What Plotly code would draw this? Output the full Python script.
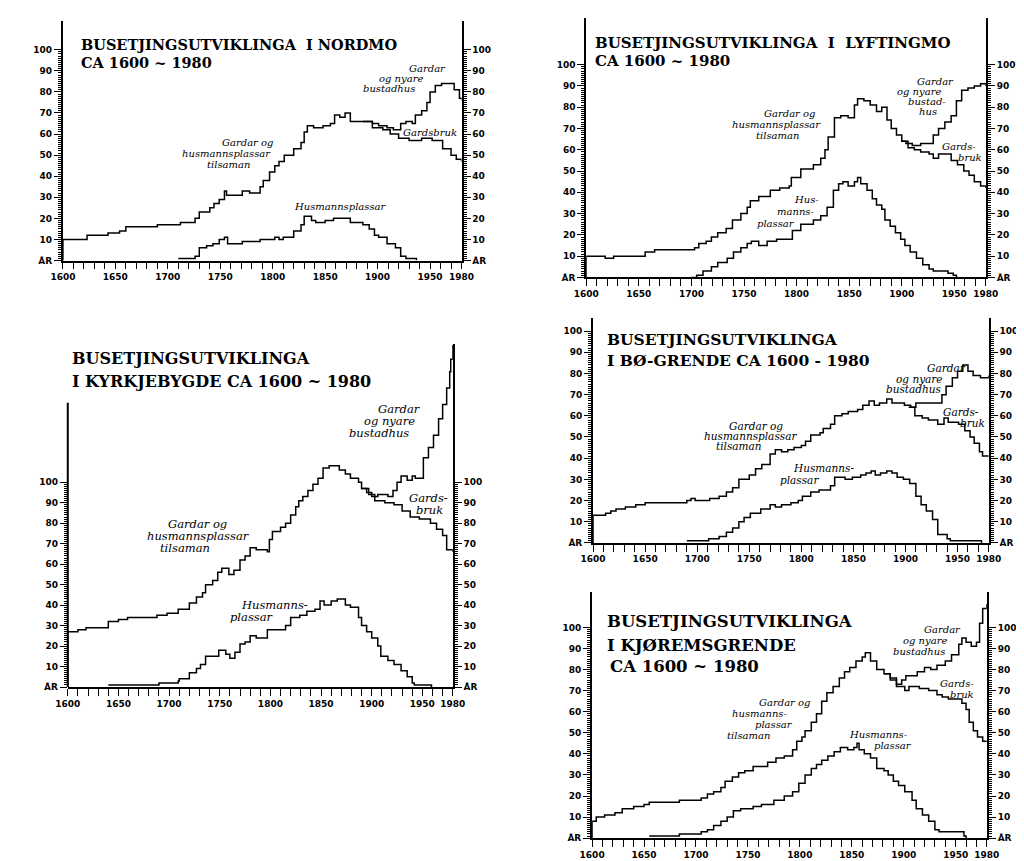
import plotly.graph_objects as go

W, H = 1024, 861

# ---------------- DATA (year of change, value from that year) ----------------
# Nordmo
nordmo_total_yr = [1600,1600,1623,1643,1654,1660,1690,1712,1726,1730,1740,1744,1749,1754,1756,1771,1778,1788,1791,1797,1802,1806,1811,1820,1827,1830,1833,1839,1848,1855,1859,1864,1869,1874,1886,1895,1901,1909,1915,1922,1927,1933,1936,1942,1947,1950,1955,1961,1967,1973,1978,1980]
nordmo_total    = [0,10,12,13,14,16,17,18,20,23,25,27,29,33,31,33,32,35,38,42,45,47,50,53,56,61,64,63,64,65,69,68,70,66,66,65,64,63,62,65,66,65,69,71,75,80,83,84,84,81,77,76]
nordmo_gard_yr  = [1886,1895,1905,1912,1920,1930,1942,1952,1962,1970,1975,1980]
nordmo_gard     = [66,63,62,60,58,57,58,57,53,50,48,47]
nordmo_hus_yr   = [1710,1726,1730,1737,1743,1749,1754,1757,1771,1788,1802,1806,1810,1820,1827,1830,1837,1841,1850,1858,1870,1874,1886,1892,1897,1901,1909,1917,1922,1927,1937]
nordmo_hus      = [1,2,6,7,8,10,11,8,9,10,11,10,11,14,17,21,19,18,19,20,20,18,17,15,12,11,8,6,2,1,0]

# Lyftingmo
lyft_total_yr = [1600,1600,1618,1626,1656,1665,1703,1707,1714,1719,1725,1733,1739,1747,1753,1756,1764,1775,1784,1793,1795,1804,1816,1823,1827,1830,1836,1842,1849,1855,1858,1864,1870,1876,1881,1886,1890,1895,1900,1904,1910,1918,1926,1930,1935,1941,1947,1952,1957,1963,1969,1975,1980]
lyft_total    = [0,10,9,10,12,13,14,16,17,19,21,23,27,30,33,36,38,41,42,43,47,51,53,56,60,66,75,76,75,81,84,83,81,78,80,74,70,67,64,63,62,63,63,67,70,73,76,83,88,89,90,91,90]
lyft_gard_yr  = [1900,1906,1912,1918,1926,1930,1935,1941,1947,1953,1959,1964,1969,1975,1980]
lyft_gard     = [64,61,60,59,58,56,58,58,55,53,50,48,45,43,42]
lyft_hus_yr   = [1700,1705,1711,1719,1725,1734,1740,1747,1753,1757,1764,1772,1781,1793,1796,1804,1816,1823,1829,1835,1840,1844,1849,1855,1858,1861,1867,1872,1876,1881,1884,1889,1894,1899,1903,1908,1914,1920,1926,1930,1944,1949,1952]
lyft_hus      = [0,1,3,5,7,9,12,14,16,17,15,17,18,18,22,25,27,29,33,41,44,45,43,45,47,44,41,37,34,32,27,24,21,18,15,12,9,6,4,3,2,1,0]

# Kyrkjebygde
kyrk_total_yr = [1600,1600,1610,1618,1640,1650,1659,1688,1698,1709,1720,1727,1733,1736,1743,1748,1752,1759,1764,1770,1775,1780,1786,1797,1799,1802,1810,1815,1820,1825,1828,1832,1837,1842,1847,1852,1858,1868,1874,1879,1887,1890,1895,1900,1906,1916,1921,1925,1929,1935,1940,1943,1951,1956,1961,1966,1970,1974,1977,1978,1980]
kyrk_total    = [0,27,28,29,32,33,34,35,36,38,41,44,46,50,52,56,58,55,57,62,64,68,67,66,72,76,78,80,84,88,91,93,96,99,102,107,108,106,104,102,100,97,95,93,94,93,96,100,103,101,103,102,112,117,123,131,138,146,154,160,167]
kyrk_gard_yr  = [1890,1897,1903,1913,1922,1930,1938,1947,1958,1964,1970,1974,1980]
kyrk_gard     = [97,94,91,90,89,86,83,82,80,77,74,67,66]
kyrk_hus_yr   = [1640,1688,1690,1709,1710,1720,1727,1731,1736,1743,1749,1756,1760,1765,1770,1775,1780,1786,1797,1808,1815,1820,1829,1836,1844,1849,1853,1860,1866,1874,1879,1887,1890,1895,1900,1906,1909,1916,1922,1929,1935,1940,1942,1959]
kyrk_hus      = [1,1,2,3,4,7,9,11,15,15,18,16,14,17,21,22,25,24,28,28,30,34,35,37,38,42,40,42,43,40,39,34,30,27,24,20,15,13,11,8,5,2,1,0]

# Bø-grende
bo_total_yr = [1600,1600,1612,1617,1622,1631,1641,1650,1690,1694,1698,1712,1721,1728,1734,1740,1750,1756,1762,1770,1775,1781,1787,1793,1800,1804,1809,1818,1821,1828,1832,1839,1845,1854,1859,1865,1870,1875,1882,1887,1893,1899,1905,1910,1930,1935,1939,1945,1950,1955,1960,1965,1972,1980]
bo_total    = [0,13,14,15,16,17,18,19,20,21,20,21,22,24,26,30,32,35,37,42,44,43,44,45,46,48,51,52,54,56,60,61,62,63,65,67,65,66,68,66,66,65,64,66,66,70,74,78,81,84,81,79,78,79]
bo_gard_yr  = [1903,1909,1916,1922,1931,1937,1941,1951,1957,1962,1966,1971,1974,1980]
bo_gard     = [64,60,59,58,56,59,57,56,53,50,47,43,41,41]
bo_hus_yr   = [1690,1711,1721,1728,1734,1740,1745,1751,1761,1770,1775,1781,1790,1797,1801,1809,1817,1828,1832,1842,1849,1857,1862,1867,1871,1876,1882,1887,1892,1898,1904,1910,1915,1920,1926,1931,1940,1943,1973]
bo_hus      = [1,2,3,5,7,10,12,14,16,18,17,18,19,20,22,24,25,27,31,30,31,32,33,34,32,33,34,33,31,30,28,22,18,15,11,4,2,1,0]

# Kjøremsgrende
kjor_total_yr = [1600,1600,1604,1612,1622,1629,1640,1650,1655,1684,1705,1711,1717,1724,1728,1735,1741,1747,1755,1769,1777,1785,1793,1797,1802,1805,1811,1816,1821,1826,1832,1838,1843,1848,1854,1860,1863,1868,1874,1881,1887,1893,1898,1902,1913,1920,1926,1932,1940,1946,1953,1956,1960,1965,1970,1973,1976,1980]
kjor_total    = [0,8,10,11,12,14,15,16,17,18,19,21,22,24,27,29,31,32,34,36,38,39,42,46,48,51,55,59,65,69,72,76,79,81,84,86,88,84,80,78,76,73,75,77,79,81,80,82,84,87,92,95,93,91,93,102,109,111]
kjor_gard_yr  = [1881,1887,1893,1901,1905,1915,1924,1932,1937,1943,1956,1960,1963,1967,1971,1976,1980]
kjor_gard     = [78,75,72,70,72,71,70,68,67,66,64,61,55,51,48,46,46]
kjor_hus_yr   = [1655,1684,1705,1711,1717,1724,1730,1736,1743,1755,1763,1775,1785,1793,1799,1805,1811,1816,1821,1827,1833,1839,1846,1852,1855,1857,1862,1868,1874,1881,1885,1890,1895,1901,1908,1912,1918,1924,1930,1934,1958,1960]
kjor_hus      = [1,2,3,4,6,8,10,13,14,15,16,18,20,22,26,30,33,35,37,39,41,43,42,43,45,42,40,38,33,32,30,27,25,22,18,14,11,8,4,3,1,0]

x_tick_years = [1600, 1650, 1700, 1750, 1800, 1850, 1900, 1950, 1980]
y_tick_vals = list(range(0, 101, 5))
y_tick_text = ["ÅR" if v == 0 else (str(v) if v % 10 == 0 else "") for v in y_tick_vals]

series = [
    (nordmo_total_yr, nordmo_total, nordmo_gard_yr, nordmo_gard, nordmo_hus_yr, nordmo_hus),
    (lyft_total_yr, lyft_total, lyft_gard_yr, lyft_gard, lyft_hus_yr, lyft_hus),
    (kyrk_total_yr, kyrk_total, kyrk_gard_yr, kyrk_gard, kyrk_hus_yr, kyrk_hus),
    (bo_total_yr, bo_total, bo_gard_yr, bo_gard, bo_hus_yr, bo_hus),
    (kjor_total_yr, kjor_total, kjor_gard_yr, kjor_gard, kjor_hus_yr, kjor_hus),
]
for s in series:
    for a, b in ((s[0], s[1]), (s[2], s[3]), (s[4], s[5])):
        assert len(a) == len(b), (len(a), len(b))

# ---------------- LAYOUT (pixel geometry of each panel) ----------------
geom = [
    dict(xl=43,  xr=452, ybot=254, y100=42,  ytop=13),
    dict(xl=580, xr=990, ybot=271, y100=57,  ytop=10),
    dict(xl=48,  xr=443, ybot=683, y100=477, ytop=338, lefttop=397),
    dict(xl=587, xr=993, ybot=538, y100=325, ytop=312),
    dict(xl=586, xr=991, ybot=835, y100=623, ytop=587),
]

titles = [
    [("BUSETJINGSUTVIKLINGA  I NORDMO", 60, 37, 14.5), ("CA 1600 ~ 1980", 60, 55, 14.5)],
    [("BUSETJINGSUTVIKLINGA  I  LYFTINGMO", 587, 35, 15), ("CA 1600 ~ 1980", 587, 53, 15)],
    [("BUSETJINGSUTVIKLINGA", 50, 353, 16), ("I KYRKJEBYGDE CA 1600 ~ 1980", 50, 376, 16)],
    [("BUSETJINGSUTVIKLINGA", 599, 333, 15.5), ("I BØ-GRENDE CA 1600 - 1980", 599, 355, 15.5)],
    [("BUSETJINGSUTVIKLINGA", 599, 617, 16.5), ("I KJØREMSGRENDE", 599, 641, 16.5), ("CA 1600 ~ 1980", 602, 662, 16.5)],
]

labels = [
    (10, [("Gardar og", 232, 135), ("husmannsplassar", 211, 146), ("tilsaman", 213, 157),
          ("Gardar", 417, 61), ("og nyare", 390, 71), ("bustadhus", 378, 81),
          ("Gardsbruk", 420, 125), ("Husmannsplassar", 328, 200)]),
    (10, [("Gardar og", 789, 106), ("husmannsplassar", 775, 117), ("tilsaman", 776, 128),
          ("Gardar", 938, 74), ("og nyare", 921, 84), ("bustad-", 930, 94), ("hus", 931, 104),
          ("Gards-", 962, 139), ("bruk", 974, 150),
          ("Hus-", 806, 193), ("manns-", 795, 205), ("plassar", 775, 217)]),
    (11.5, [("Gardar og", 181, 519), ("husmannsplassar", 182, 531), ("tilsaman", 168, 543),
            ("Gardar", 388, 403), ("og nyare", 378, 415), ("bustadhus", 367, 427),
            ("Gards-", 418, 493), ("bruk", 419, 505),
            ("Husmanns-", 260, 600), ("plassar", 237, 613)]),
    (10.5, [("Gardar og", 754, 420), ("husmannsplassar", 749, 431), ("tilsaman", 737, 441),
            ("Gardar", 950, 362), ("og nyare", 922, 373), ("bustadhus", 916, 383),
            ("Gards-", 965, 406), ("bruk", 976, 417),
            ("Husmanns-", 823, 463), ("plassar", 799, 475)]),
    (10, [("Gardar og", 783, 699), ("husmanns-", 758, 710), ("plassar", 773, 721), ("tilsaman", 746, 732),
          ("Gardar", 945, 625), ("og nyare", 928, 636), ("bustadhus", 921, 647),
          ("Gards-", 960, 679), ("bruk", 966, 691),
          ("Husmanns-", 880, 731), ("plassar", 895, 742)]),
]

TICKFONT = dict(family="DejaVu Sans", size=9, color="black", weight=700)
TITLEFAMILY = "DejaVu Serif"
LABELFAMILY = "DejaVu Serif"

fig = go.Figure()
layout = dict(width=W, height=H, margin=dict(l=0, r=0, t=0, b=0),
              paper_bgcolor="white", plot_bgcolor="white", showlegend=False)
annotations = []
shapes = []

for i, (g, s) in enumerate(zip(geom, series), start=1):
    xname = f"x{i}" if i > 1 else "x"
    yl = 2 * i - 1
    yr = 2 * i
    ylname = f"y{yl}" if yl > 1 else "y"
    yrname = f"y{yr}"
    top = 100.0 * (g["ybot"] - g["ytop"]) / (g["ybot"] - g["y100"])
    xdom = [g["xl"] / W, g["xr"] / W]
    ydom = [1 - g["ybot"] / H, 1 - g["ytop"] / H]

    tot_yr, tot, gard_yr, gard, hus_yr, hus = s
    line = dict(color="black", width=1.5, shape="hv")
    fig.add_trace(go.Scatter(x=tot_yr, y=tot, mode="lines", line=line, xaxis=xname, yaxis=ylname, hoverinfo="skip"))
    fig.add_trace(go.Scatter(x=hus_yr, y=hus, mode="lines", line=line, xaxis=xname, yaxis=ylname, hoverinfo="skip"))
    fig.add_trace(go.Scatter(x=gard_yr, y=gard, mode="lines", line=line, xaxis=xname, yaxis=yrname, hoverinfo="skip"))

    layout[f"xaxis{i if i > 1 else ''}"] = dict(
        domain=xdom, range=[1600, 1980], anchor=ylname, showline=True, linecolor="black", linewidth=1.5,
        showgrid=False, zeroline=False, ticks="outside", tickvals=x_tick_years, ticklen=7, tickwidth=1.3,
        tickcolor="black", tickfont=TICKFONT, ticklabelstandoff=0,
        minor=dict(tickmode="array", tickvals=list(range(1600, 1981, 10)), ticks="outside", ticklen=7,
                   tickwidth=1.3, tickcolor="black", showgrid=False),
        fixedrange=True)
    yax = dict(range=[0, top], showgrid=False, zeroline=False, showline=True, linecolor="black", linewidth=2,
               ticks="outside", tickvals=y_tick_vals, ticktext=y_tick_text, ticklen=7, tickwidth=1.3,
               tickcolor="black", tickfont=TICKFONT,
               minor=dict(tickmode="array", tickvals=list(range(0, 101)), ticks="outside", ticklen=3,
                          tickwidth=1, tickcolor="black", showgrid=False),
               fixedrange=True)
    left = dict(yax, domain=ydom, anchor=xname, side="left")
    right = dict(yax, overlaying=ylname, anchor=xname, side="right")
    if "lefttop" in g:
        left["showline"] = False
        ltop = 100.0 * (g["ybot"] - g["lefttop"]) / (g["ybot"] - g["y100"])
        shapes.append(dict(type="line", xref=f"{xname} domain", yref=ylname, x0=0, x1=0, y0=0, y1=ltop,
                           line=dict(color="black", width=2)))
    layout[f"yaxis{yl if yl > 1 else ''}"] = left
    layout[f"yaxis{yr}"] = right

for panel in titles:
    for text, x, y, size in panel:
        annotations.append(dict(text=text, x=x / W, y=1 - y / H, xref="paper", yref="paper",
                                xanchor="left", yanchor="middle", showarrow=False,
                                font=dict(family=TITLEFAMILY, size=size, color="black", weight=700)))

for size, items in labels:
    for text, x, y in items:
        annotations.append(dict(text=text, x=x / W, y=1 - y / H, xref="paper", yref="paper",
                                xanchor="center", yanchor="middle", showarrow=False,
                                font=dict(family=LABELFAMILY, size=size, color="black", style="italic")))

layout["annotations"] = annotations
layout["shapes"] = shapes
fig.update_layout(**layout)
fig.write_html("out.html")
